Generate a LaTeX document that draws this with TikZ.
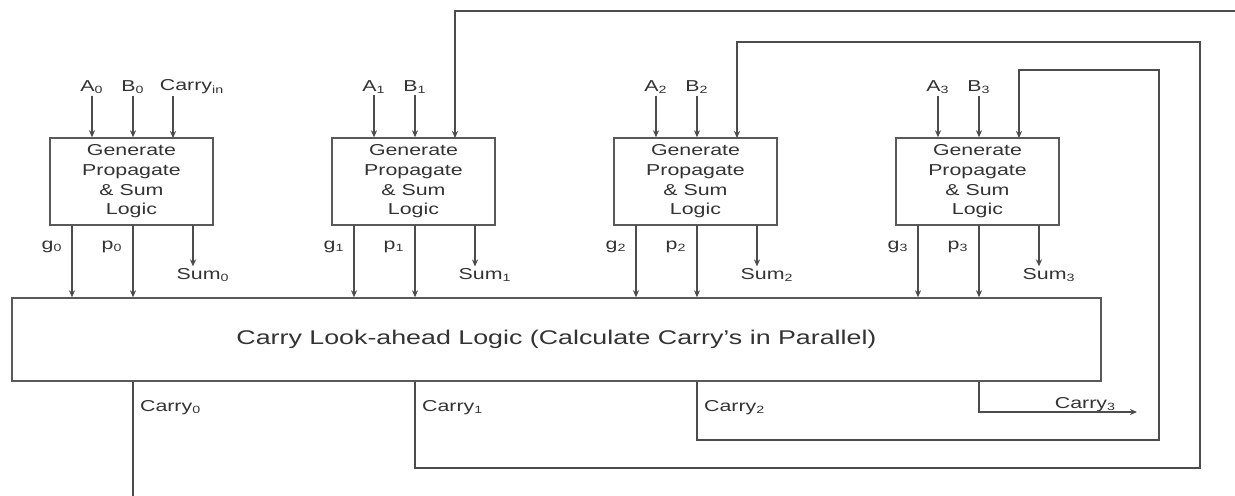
\documentclass[tikz,border=0pt]{standalone}
\usepackage{fontspec}
\setmainfont{Liberation Sans}[FakeStretch=1.35]
\usetikzlibrary{arrows.meta}

\tikzset{
  wire/.style={draw=black!70, line width=0.8pt},
  gpbox/.style={draw=black!65, line width=0.9pt, minimum width=3.26cm, minimum height=1.74cm,
    align=center, inner sep=0pt, font=\fontsize{9}{11.2}\selectfont, text=black!80},
  lbl/.style={font=\fontsize{9}{10}\selectfont, text=black!80, inner sep=1pt},
}

\begin{document}
\begin{tikzpicture}[x=0.02cm, y=-0.02cm, >={Stealth[length=4pt,width=3.5pt]}]
  \useasboundingbox (0,0) rectangle (1235,495);
  \clip (0,0) rectangle (1235,495);

  % Carry look-ahead block
  \node[gpbox, minimum width=21.78cm, minimum height=1.66cm, font=\fontsize{11.3}{13}\selectfont]
    (cla) at (556.5,339.5) {Carry Look-ahead Logic (Calculate Carry's in Parallel)};

  % Generate, propagate and sum blocks
  \foreach \i in {0,...,3} {
    \pgfmathsetmacro{\L}{50+282*\i}
    \node[gpbox] (gp\i) at (\L+81.5,181.5) {Generate\\Propagate\\\& Sum\\Logic};
    \coordinate (ci\i) at (\L+123,138);
    \coordinate (g\i) at (\L+22,225);
    \coordinate (p\i) at (\L+83,225);
    \coordinate (s\i) at (\L+143,225);
    \node[lbl] (a\i) at (\L+42,87) {A\textsubscript{\i}};
    \node[lbl] (b\i) at (\L+83,87) {B\textsubscript{\i}};
    \node[lbl] (gl\i) at (\L+2,247) {g\textsubscript{\i}};
    \node[lbl] (pl\i) at (\L+62,247) {p\textsubscript{\i}};
    \node[lbl] (sum\i) at (\L+153,275) {Sum\textsubscript{\i}};
    \draw[wire,->] (a\i) -- (a\i |- gp\i.north);
    \draw[wire,->] (b\i) -- (b\i |- gp\i.north);
    \draw[wire,->] (g\i) -- (g\i |- cla.north);
    \draw[wire,->] (p\i) -- (p\i |- cla.north);
    \draw[wire,->] (s\i) -- (s\i |- sum\i.north);
  }

  % Carry in
  \node[lbl] (cin) at (192,87) {Carry\textsubscript{in}};
  \draw[wire,->] (ci0 |- cin.south) -- (ci0);

  % Carries fed back to the next block
  \foreach \i/\j/\xr/\yb/\yt in {0/1/1245/505/11, 1/2/1200/468/42, 2/3/1159/440/70} {
    \pgfmathsetmacro{\L}{50+282*\i}
    \pgfmathsetmacro{\cx}{50+282*\j+123}
    \node[lbl, anchor=west] (cy\i) at (\L+88,408) {Carry\textsubscript{\i}};
    \draw[wire,->] (cla.south -| p\i) |- (\xr,\yb) |- (\cx,\yt) -- (ci\j);
  }

  % Carry out
  \coordinate (cout) at (1137,412);
  \node[lbl, anchor=south east] (cy3) at (1118,414) {Carry\textsubscript{3}};
  \draw[wire,->] (cla.south -| p3) |- (cout);
\end{tikzpicture}
\end{document}
